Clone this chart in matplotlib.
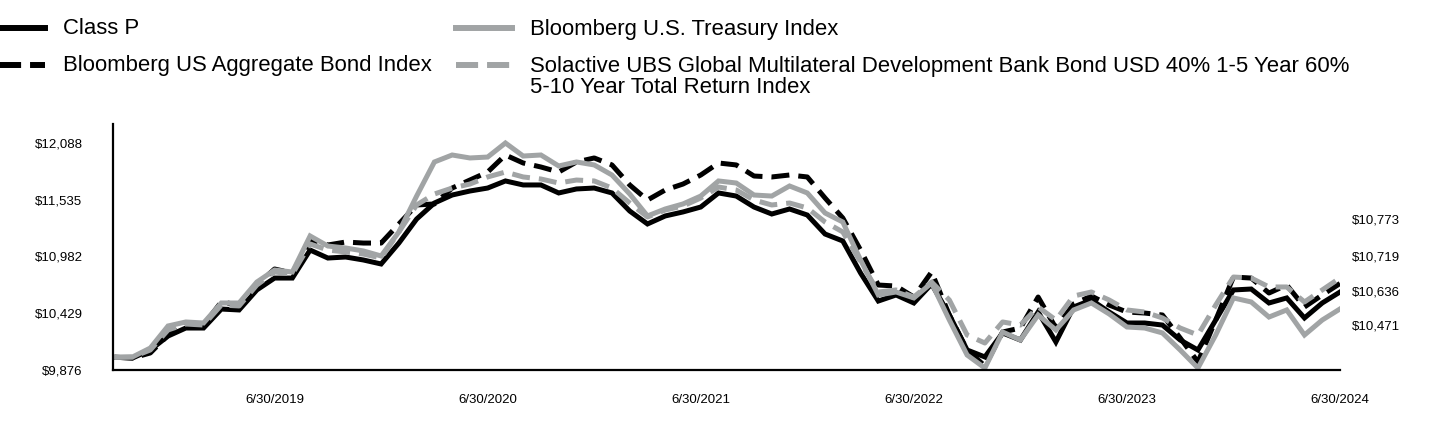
import pandas as pd
import matplotlib.pyplot as plt
from matplotlib.lines import Line2D

plt.rcParams['font.family'] = ['Liberation Sans', 'DejaVu Sans']

# month-end dates, Sep 2018 .. Jun 2024
months = pd.date_range('2018-09-30', periods=70, freq='ME')

class_p = [10000, 9993, 10071, 10207, 10285, 10285, 10470, 10461, 10656, 10772,
           10772, 11045, 10967, 10977, 10948, 10909, 11113, 11347, 11503, 11581,
           11620, 11649, 11718, 11679, 11679, 11601, 11640, 11649, 11601, 11425,
           11299, 11377, 11416, 11464, 11601, 11571, 11464, 11396, 11445, 11386,
           11201, 11133, 10821, 10548, 10607, 10529, 10714, 10412, 10071, 10003,
           10237, 10168, 10441, 10149, 10490, 10558, 10441, 10334, 10334, 10314,
           10168, 10071, 10363, 10656, 10665, 10529, 10578, 10383, 10529, 10636]

agg = [10000, 9993, 10042, 10217, 10314, 10314, 10539, 10509, 10704, 10860,
       10821, 11143, 11094, 11123, 11113, 11113, 11299, 11484, 11494, 11649,
       11727, 11805, 11971, 11893, 11854, 11805, 11903, 11942, 11874, 11679,
       11532, 11630, 11688, 11776, 11893, 11874, 11766, 11757, 11776, 11757,
       11552, 11357, 11045, 10704, 10694, 10587, 10831, 10412, 10071, 9915,
       10246, 10285, 10587, 10285, 10519, 10597, 10509, 10441, 10431, 10412,
       10188, 9954, 10363, 10782, 10772, 10626, 10704, 10490, 10607, 10719]

treasury = [10000, 10003, 10090, 10305, 10344, 10334, 10529, 10529, 10733, 10850,
            10831, 11182, 11084, 11065, 11036, 10987, 11221, 11571, 11903, 11971,
            11942, 11951, 12088, 11961, 11971, 11864, 11903, 11874, 11776, 11591,
            11377, 11445, 11494, 11571, 11718, 11698, 11581, 11571, 11669, 11601,
            11406, 11318, 10948, 10607, 10636, 10578, 10724, 10363, 10022, 9895,
            10246, 10168, 10412, 10266, 10461, 10529, 10422, 10295, 10285, 10237,
            10071, 9895, 10217, 10578, 10539, 10392, 10461, 10217, 10363, 10471]

solactive = [10000, 10003, 10071, 10266, 10324, 10314, 10509, 10500, 10704, 10831,
             10811, 11104, 11045, 11026, 11006, 10967, 11221, 11484, 11591, 11649,
             11688, 11757, 11805, 11757, 11737, 11698, 11727, 11718, 11649, 11503,
             11367, 11435, 11474, 11552, 11659, 11630, 11532, 11484, 11503, 11455,
             11318, 11221, 10928, 10636, 10656, 10587, 10733, 10558, 10217, 10139,
             10344, 10314, 10490, 10363, 10597, 10636, 10558, 10461, 10441, 10383,
             10285, 10217, 10509, 10782, 10772, 10685, 10685, 10539, 10656, 10773]

series_names = ['Class P', 'Bloomberg US Aggregate Bond Index', 'Bloomberg U.S. Treasury Index',
                'Solactive UBS Global Multilateral Development Bank Bond USD 40% 1-5 Year 60%\n'
                '5-10 Year Total Return Index']
y_ticks = [9876, 10429, 10982, 11535, 12088]

GRAY = '#a1a4a5'
styles = [dict(color='black', ls='-'),
          dict(color='black', ls=(0, (3.6, 1.8))),
          dict(color=GRAY, ls='-'),
          dict(color=GRAY, ls=(0, (3.6, 1.8)))]

W, H = 1440, 432
fig = plt.figure(figsize=(W / 100, H / 100), dpi=100)
ax = fig.add_axes([113 / W, 62 / H, (1340 - 113) / W, 246 / H])

x = list(range(len(months)))
for vals, st in zip([class_p, agg, treasury, solactive], styles):
    ax.plot(x, vals, lw=3.6, solid_joinstyle='miter', **st)

ax.set_xlim(-0.1, len(months) - 1)
ax.set_ylim(9876, 12273)
ax.set_yticks(y_ticks)
ax.set_yticklabels([f'${v:,}' for v in y_ticks])
june = [i for i, d in enumerate(months) if d.month == 6]
ax.set_xticks(june)
ax.set_xticklabels([f'{months[i].month}/{months[i].day}/{months[i].year}' for i in june])
ax.tick_params(axis='y', length=0, pad=22, labelsize=9.5)
ax.tick_params(axis='x', length=0, pad=17, labelsize=9.5)
for s in ['top', 'right']:
    ax.spines[s].set_visible(False)
for s in ['left', 'bottom']:
    ax.spines[s].set_linewidth(1.6)

# ending value labels on the right, stacked in order
finals = sorted([class_p[-1], agg[-1], treasury[-1], solactive[-1]], reverse=True)
for v, fy in zip(finals, [0.606, 0.459, 0.317, 0.175]):
    ax.text(1.0095, fy, f'${v:,}', transform=ax.transAxes, fontsize=9.5,
            ha='left', va='center')

# legend drawn by hand
def px(xp, yp):
    return xp / W, 1 - yp / H

legend_items = [(-12, 45, 63, 28), (-12, 45, 63, 65), (456, 512, 530, 28), (456, 512, 530, 65)]
for name, st, (x0, x1, tx, ty) in zip(series_names, styles, legend_items):
    (fx0, fy), (fx1, _) = px(x0, ty), px(x1, ty)
    fig.add_artist(Line2D([fx0, fx1], [fy, fy], transform=fig.transFigure,
                          lw=4.3, color=st['color'], ls=(0, (3.7, 1.5)) if st['ls'] != '-' else '-'))
    tfx, tfy = px(tx, ty + 1)
    fig.text(tfx, tfy + (0 if '\n' not in name else -11 / H), name, fontsize=15.9,
             ha='left', va='center', linespacing=0.98)

fig.savefig('out.png', dpi=100)
